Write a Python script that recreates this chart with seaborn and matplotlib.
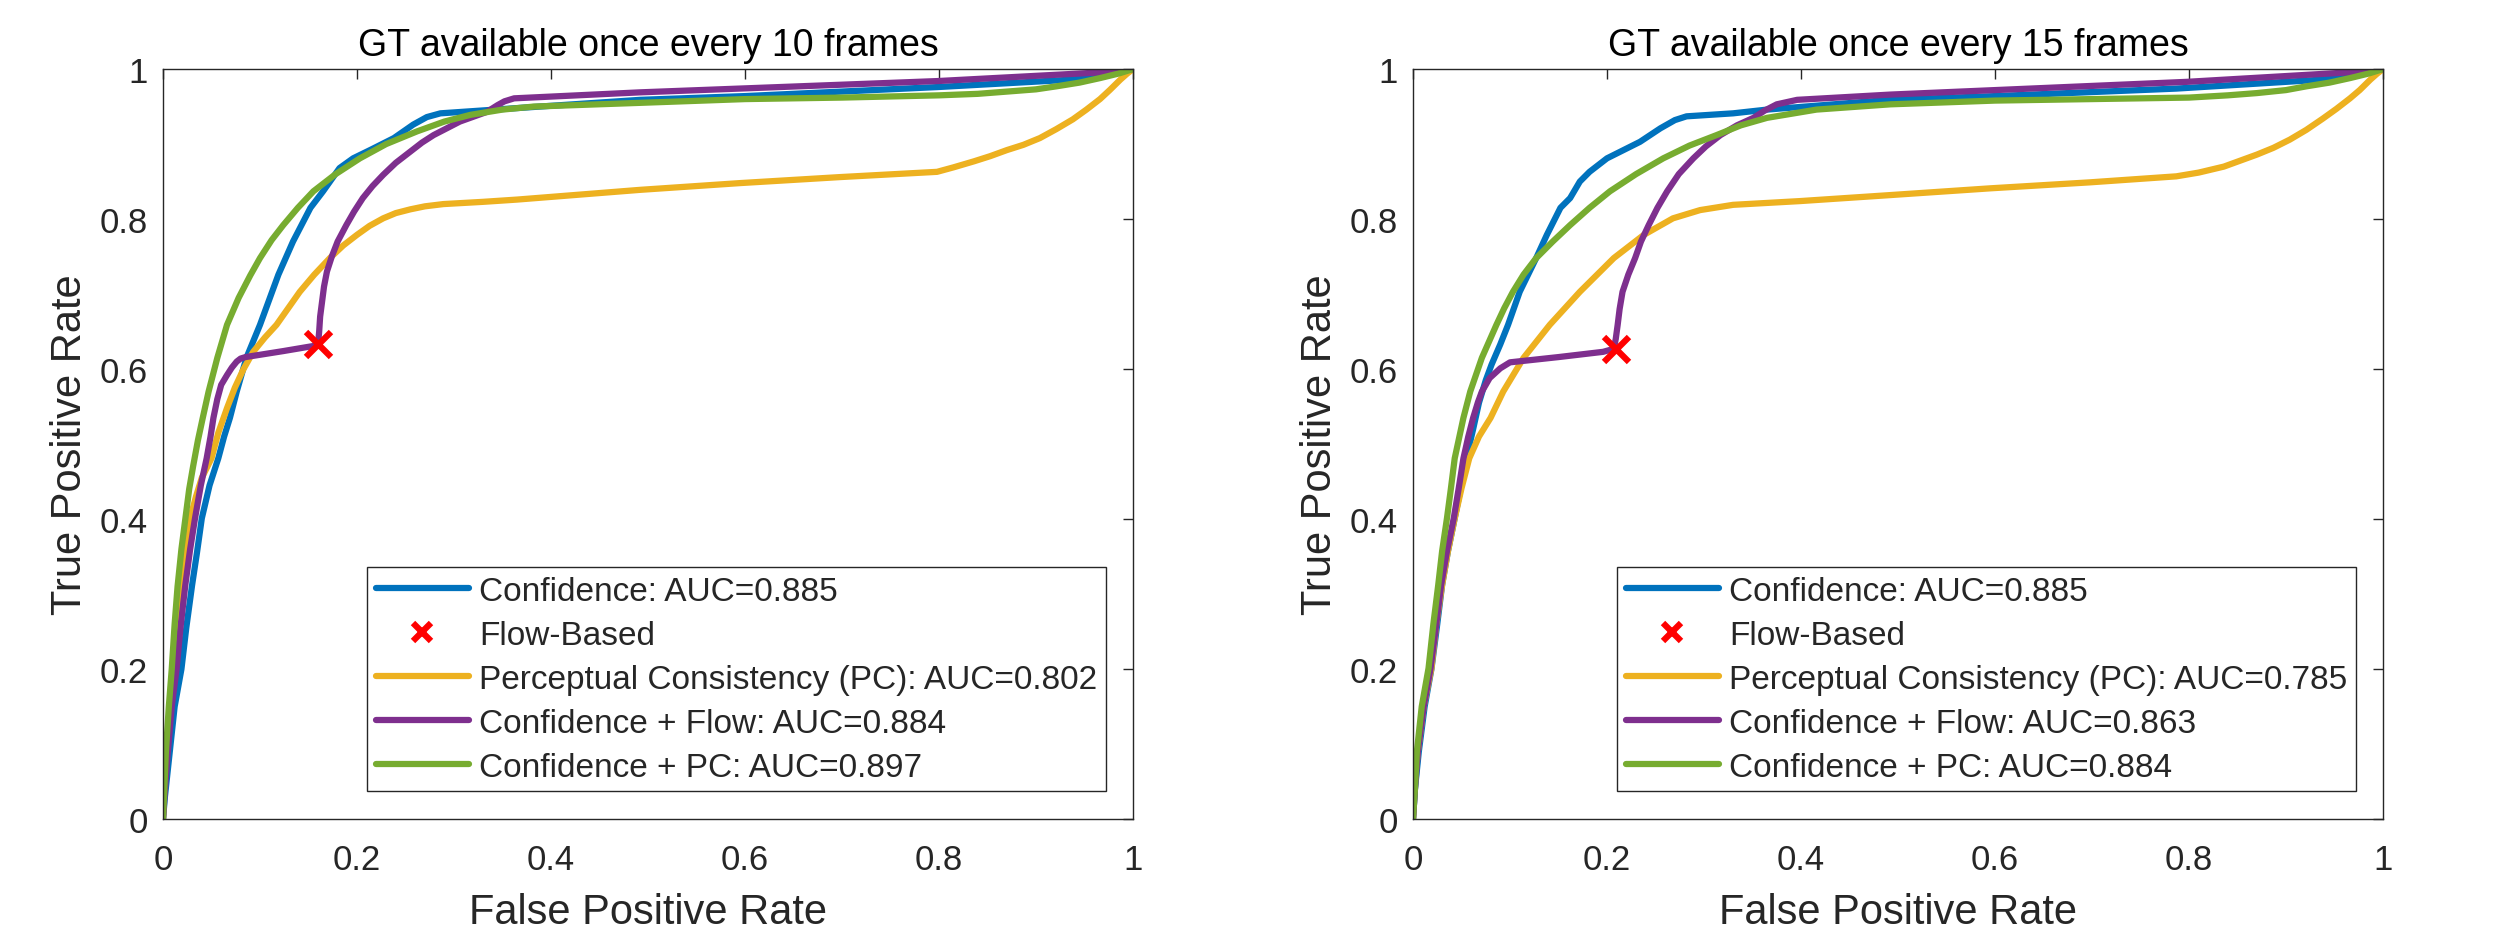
import numpy as np
import pandas as pd
import seaborn as sns
from matplotlib import pyplot as plt

# ROC points
# --- GT available once every 10 frames ---
conf10_fpr = [0, 0.002, 0.007, 0.012, 0.019, 0.024, 0.030, 0.035, 0.040, 0.048, 0.057, 0.063, 0.069, 0.076,
              0.086, 0.100, 0.119, 0.134, 0.152, 0.165, 0.182, 0.196, 0.215, 0.238, 0.258, 0.272, 0.286,
              0.320, 0.365, 0.492, 0.600, 0.798, 0.938, 1.0]
conf10_tpr = [0, 0.030, 0.090, 0.150, 0.200, 0.255, 0.312, 0.355, 0.401, 0.445, 0.481, 0.510, 0.535, 0.570,
              0.615, 0.659, 0.726, 0.770, 0.815, 0.837, 0.868, 0.881, 0.893, 0.908, 0.926, 0.936, 0.941,
              0.944, 0.948, 0.959, 0.964, 0.976, 0.986, 1.0]

pc10_fpr = [0, 0.001, 0.004, 0.007, 0.011, 0.015, 0.019, 0.023, 0.028, 0.034, 0.040, 0.050, 0.057, 0.066,
            0.074, 0.083, 0.093, 0.105, 0.117, 0.129, 0.141, 0.156, 0.172, 0.186, 0.200, 0.213, 0.227,
            0.240, 0.255, 0.270, 0.289, 0.330, 0.365, 0.492, 0.595, 0.698, 0.798, 0.815, 0.836, 0.853,
            0.870, 0.887, 0.904, 0.921, 0.938, 0.952, 0.966, 0.976, 0.987, 0.994, 1.0]
pc10_tpr = [0, 0.040, 0.090, 0.150, 0.200, 0.260, 0.312, 0.360, 0.401, 0.430, 0.455, 0.481, 0.515, 0.548,
            0.575, 0.600, 0.623, 0.642, 0.659, 0.681, 0.703, 0.726, 0.748, 0.765, 0.779, 0.791, 0.801,
            0.808, 0.813, 0.817, 0.820, 0.823, 0.826, 0.839, 0.848, 0.856, 0.863, 0.869, 0.877, 0.884,
            0.892, 0.899, 0.908, 0.920, 0.933, 0.946, 0.960, 0.972, 0.986, 0.994, 1.0]

flow10_fpr = [0, 0.002, 0.005, 0.009, 0.014, 0.018, 0.023, 0.028, 0.033, 0.039, 0.045, 0.049, 0.052, 0.056,
              0.060, 0.066, 0.071, 0.076, 0.080, 0.085, 0.124, 0.156, 0.160, 0.161, 0.162, 0.164, 0.166,
              0.169, 0.174, 0.180, 0.189, 0.197, 0.206, 0.216, 0.227, 0.240, 0.255, 0.267, 0.279, 0.306,
              0.334, 0.345, 0.352, 0.362, 0.492, 0.798, 0.973, 1.0]
flow10_tpr = [0, 0.040, 0.090, 0.150, 0.200, 0.255, 0.312, 0.360, 0.401, 0.445, 0.481, 0.510, 0.535, 0.560,
              0.579, 0.592, 0.602, 0.610, 0.614, 0.616, 0.624, 0.631, 0.636, 0.650, 0.670, 0.690, 0.710,
              0.730, 0.750, 0.770, 0.792, 0.810, 0.828, 0.844, 0.859, 0.875, 0.890, 0.902, 0.912, 0.930,
              0.943, 0.952, 0.957, 0.961, 0.969, 0.984, 0.996, 1.0]

pcconf10_fpr = [0, 0.001, 0.003, 0.006, 0.009, 0.012, 0.015, 0.019, 0.023, 0.027, 0.031, 0.036, 0.041, 0.047,
                0.056, 0.066, 0.078, 0.090, 0.100, 0.112, 0.124, 0.139, 0.155, 0.178, 0.203, 0.230, 0.262,
                0.290, 0.317, 0.350, 0.382, 0.492, 0.600, 0.700, 0.800, 0.840, 0.870, 0.900, 0.921, 0.945,
                0.966, 0.985, 1.0]
pcconf10_tpr = [0, 0.030, 0.090, 0.150, 0.200, 0.260, 0.310, 0.360, 0.400, 0.440, 0.470, 0.505, 0.535, 0.570,
                0.615, 0.659, 0.695, 0.725, 0.748, 0.772, 0.792, 0.815, 0.837, 0.860, 0.881, 0.900, 0.917,
                0.930, 0.939, 0.946, 0.950, 0.955, 0.960, 0.962, 0.965, 0.967, 0.970, 0.973, 0.977, 0.982,
                0.988, 0.994, 1.0]

flowpt10 = (0.160, 0.634)

# --- GT available once every 15 frames ---
conf15_fpr = [0, 0.002, 0.006, 0.012, 0.019, 0.025, 0.030, 0.036, 0.043, 0.049, 0.055, 0.062, 0.068, 0.075,
              0.081, 0.090, 0.098, 0.110, 0.127, 0.138, 0.152, 0.162, 0.172, 0.182, 0.200, 0.217, 0.234,
              0.255, 0.270, 0.282, 0.330, 0.365, 0.492, 0.600, 0.787, 0.938, 1.0]
conf15_tpr = [0, 0.040, 0.090, 0.150, 0.200, 0.260, 0.312, 0.357, 0.401, 0.440, 0.481, 0.520, 0.555, 0.585,
              0.606, 0.633, 0.659, 0.703, 0.748, 0.779, 0.815, 0.828, 0.850, 0.863, 0.881, 0.892, 0.903,
              0.921, 0.932, 0.937, 0.941, 0.946, 0.959, 0.964, 0.974, 0.986, 1.0]

pc15_fpr = [0, 0.001, 0.005, 0.011, 0.019, 0.024, 0.030, 0.036, 0.043, 0.050, 0.058, 0.068, 0.080, 0.093,
            0.114, 0.141, 0.172, 0.207, 0.238, 0.268, 0.296, 0.330, 0.399, 0.492, 0.595, 0.698, 0.787,
            0.810, 0.836, 0.853, 0.870, 0.887, 0.904, 0.921, 0.938, 0.952, 0.966, 0.976, 0.987, 0.994, 1.0]
pc15_tpr = [0, 0.040, 0.090, 0.150, 0.201, 0.260, 0.312, 0.357, 0.401, 0.441, 0.481, 0.510, 0.535, 0.570,
            0.615, 0.659, 0.703, 0.748, 0.779, 0.801, 0.812, 0.819, 0.824, 0.832, 0.841, 0.849, 0.857,
            0.862, 0.870, 0.878, 0.886, 0.895, 0.906, 0.919, 0.934, 0.947, 0.961, 0.972, 0.986, 0.994, 1.0]

flow15_fpr = [0, 0.002, 0.005, 0.011, 0.018, 0.024, 0.029, 0.035, 0.042, 0.047, 0.052, 0.057, 0.062, 0.067,
              0.071, 0.079, 0.090, 0.100, 0.150, 0.196, 0.207, 0.209, 0.211, 0.213, 0.216, 0.222, 0.229,
              0.235, 0.243, 0.252, 0.262, 0.274, 0.289, 0.302, 0.317, 0.334, 0.351, 0.363, 0.375, 0.396,
              0.492, 0.798, 0.970, 1.0]
flow15_tpr = [0, 0.040, 0.090, 0.150, 0.200, 0.260, 0.312, 0.357, 0.401, 0.440, 0.481, 0.510, 0.535, 0.556,
              0.570, 0.588, 0.601, 0.609, 0.616, 0.623, 0.627, 0.640, 0.659, 0.680, 0.703, 0.726, 0.748,
              0.770, 0.792, 0.815, 0.837, 0.860, 0.881, 0.897, 0.912, 0.925, 0.935, 0.945, 0.953, 0.959,
              0.966, 0.983, 0.996, 1.0]

pcconf15_fpr = [0, 0.002, 0.004, 0.009, 0.016, 0.021, 0.026, 0.030, 0.035, 0.039, 0.043, 0.052, 0.059, 0.071,
                0.086, 0.094, 0.103, 0.114, 0.127, 0.144, 0.162, 0.182, 0.203, 0.230, 0.258, 0.285, 0.313,
                0.338, 0.365, 0.416, 0.492, 0.600, 0.700, 0.800, 0.840, 0.870, 0.900, 0.921, 0.945, 0.966,
                0.985, 1.0]
pcconf15_tpr = [0, 0.040, 0.090, 0.150, 0.201, 0.260, 0.312, 0.357, 0.401, 0.440, 0.481, 0.535, 0.570, 0.615,
                0.659, 0.681, 0.703, 0.726, 0.748, 0.770, 0.792, 0.815, 0.837, 0.860, 0.881, 0.898, 0.912,
                0.925, 0.935, 0.946, 0.953, 0.958, 0.960, 0.962, 0.965, 0.968, 0.972, 0.977, 0.982, 0.988,
                0.994, 1.0]

flowpt15 = (0.209, 0.627)

titles = ['GT available once every 10 frames', 'GT available once every 15 frames']
auc10 = {'conf': 0.885, 'pc': 0.802, 'flow': 0.884, 'pcconf': 0.897}
auc15 = {'conf': 0.885, 'pc': 0.785, 'flow': 0.863, 'pcconf': 0.884}
tick_vals = [0, 0.2, 0.4, 0.6, 0.8, 1]
tick_labels = ['0', '0.2', '0.4', '0.6', '0.8', '1']

# MATLAB default colour order
c_blue = '#0072BD'
c_yellow = '#EDB120'
c_purple = '#7E2F8E'
c_green = '#77AC30'
c_dark = '#262626'

sns.set_style('white')
plt.rcParams['font.family'] = ['Liberation Sans', 'DejaVu Sans']

fig = plt.figure(figsize=(25, 9.37), dpi=100)
ax_left = fig.add_axes([0.0652, 0.1248, 0.388, 0.8004])
ax_right = fig.add_axes([0.5652, 0.1248, 0.388, 0.8004])

panels = [
    (ax_left, titles[0], auc10, (conf10_fpr, conf10_tpr), (pc10_fpr, pc10_tpr),
     (flow10_fpr, flow10_tpr), (pcconf10_fpr, pcconf10_tpr), flowpt10),
    (ax_right, titles[1], auc15, (conf15_fpr, conf15_tpr), (pc15_fpr, pc15_tpr),
     (flow15_fpr, flow15_tpr), (pcconf15_fpr, pcconf15_tpr), flowpt15),
]

lw = 4.5
for ax, title, auc, conf, pc, flow, pcconf, flowpt in panels:
    sns.lineplot(x=conf[0], y=conf[1], ax=ax, color=c_blue, lw=lw, sort=False, estimator=None,
                 label=f'Confidence: AUC={auc["conf"]:.3f}')
    ax.plot([flowpt[0]], [flowpt[1]], linestyle='none', marker='x', ms=18, mew=4.5, color='red',
            label='Flow-Based')
    sns.lineplot(x=pc[0], y=pc[1], ax=ax, color=c_yellow, lw=lw, sort=False, estimator=None,
                 label=f'Perceptual Consistency (PC): AUC={auc["pc"]:.3f}')
    sns.lineplot(x=flow[0], y=flow[1], ax=ax, color=c_purple, lw=lw, sort=False, estimator=None,
                 label=f'Confidence + Flow: AUC={auc["flow"]:.3f}')
    sns.lineplot(x=pcconf[0], y=pcconf[1], ax=ax, color=c_green, lw=lw, sort=False, estimator=None,
                 label=f'Confidence + PC: AUC={auc["pcconf"]:.3f}')

    # bring the marker on top of the purple curve
    ax.lines[1].set_zorder(5)
    for ln in ax.lines:
        ln.set_solid_joinstyle('round')
        ln.set_solid_capstyle('round')

    ax.set_xlim(0, 1)
    ax.set_ylim(0, 1)
    ax.set_xticks(tick_vals)
    ax.set_xticklabels(tick_labels)
    ax.set_yticks(tick_vals)
    ax.set_yticklabels(tick_labels)
    ax.tick_params(direction='in', length=7, width=1, colors=c_dark, labelsize=25,
                   top=True, right=True)
    ax.tick_params(axis='x', pad=17)
    ax.tick_params(axis='y', pad=11)
    for sp in ax.spines.values():
        sp.set_visible(True)
        sp.set_color(c_dark)
        sp.set_linewidth(1)

    ax.set_title(title, fontsize=27, pad=10, color='black')
    ax.set_xlabel('False Positive Rate', fontsize=30, color=c_dark, labelpad=12)
    ax.set_ylabel('True Positive Rate', fontsize=30, color=c_dark, labelpad=7)

    leg = ax.legend(loc='lower right', bbox_to_anchor=(0.972, 0.037), borderaxespad=0,
                    fontsize=24, frameon=True, fancybox=False, framealpha=1, edgecolor=c_dark,
                    borderpad=0.26, labelspacing=0.39, handlelength=2.8, handletextpad=0.3,
                    markerscale=0.7)
    leg.get_frame().set_linewidth(1)

plt.savefig('out.png', dpi=100, facecolor='white')
plt.close()
